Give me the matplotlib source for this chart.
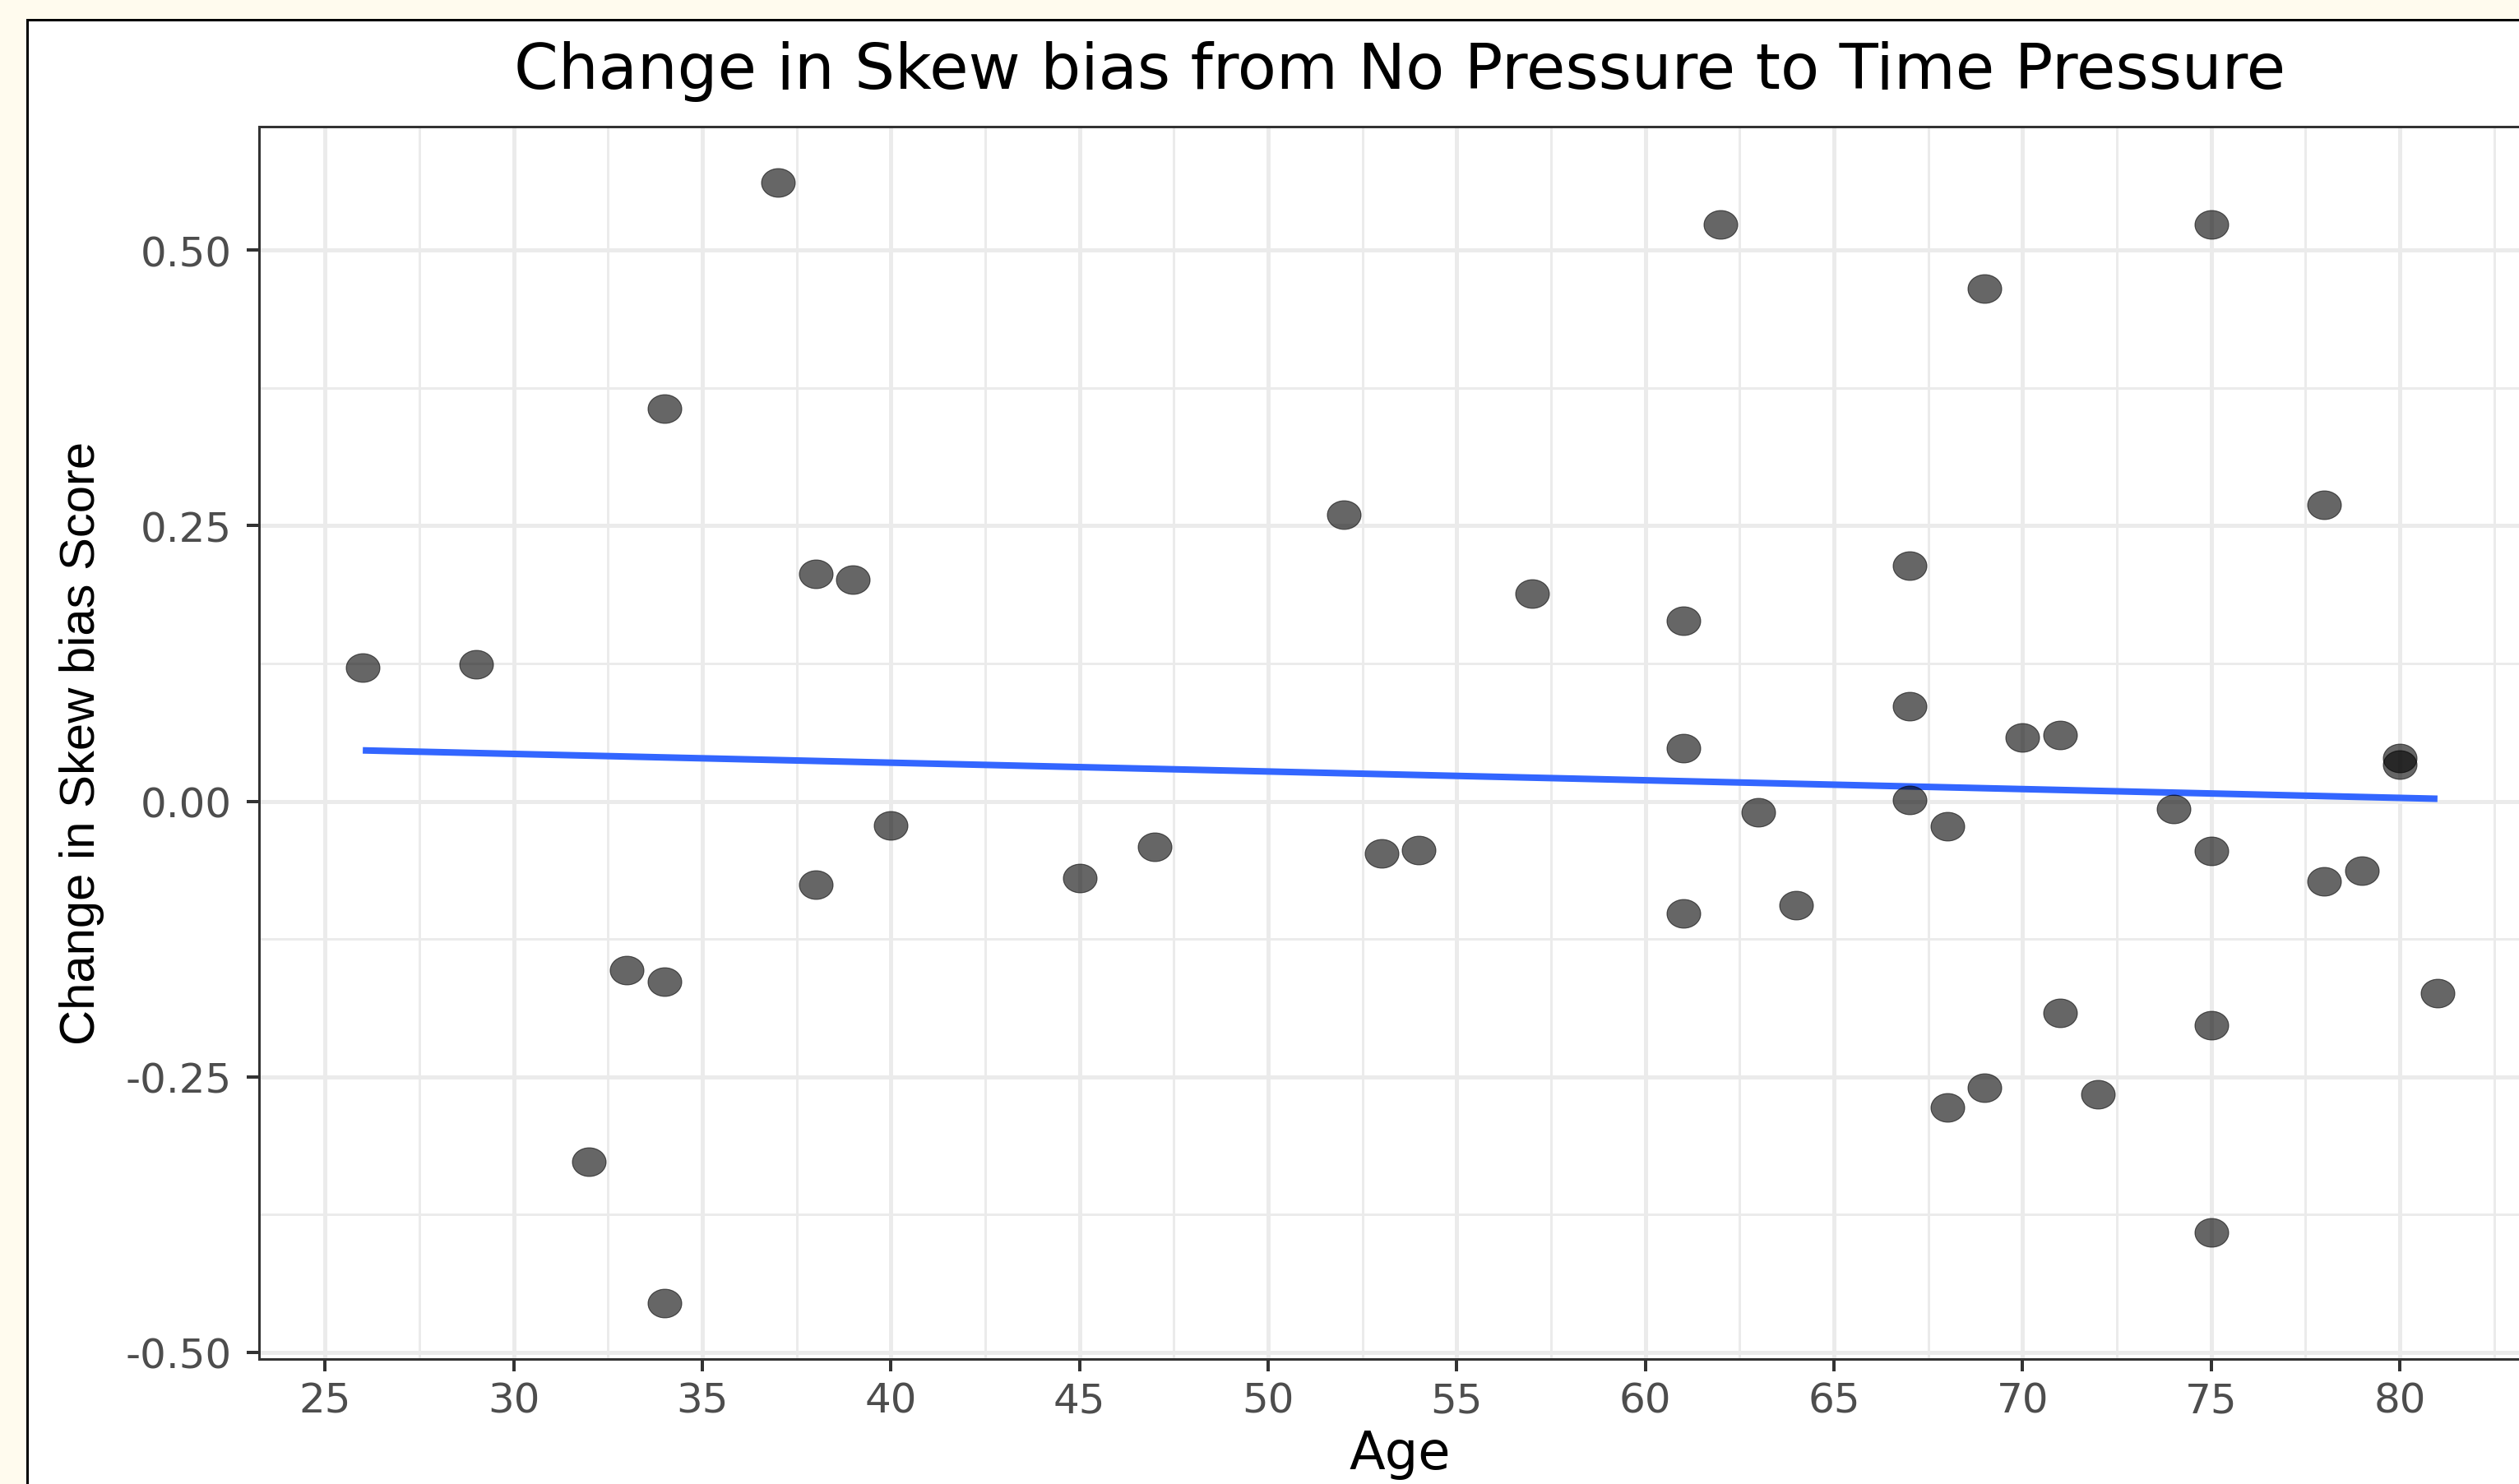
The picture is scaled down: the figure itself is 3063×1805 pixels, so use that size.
import numpy as np
import matplotlib.pyplot as plt
from matplotlib.path import Path
from matplotlib.transforms import Affine2D
from matplotlib.patches import Rectangle
from matplotlib.ticker import MultipleLocator

# data
age = [26, 29, 32, 33, 34, 34, 34, 37, 38, 38, 39, 40, 45, 47, 52, 53, 54, 57,
       61, 61, 61, 62, 63, 64, 67, 67, 67, 68, 68, 69, 69, 70, 71, 71, 72, 74,
       75, 75, 75, 75, 78, 78, 79, 80, 80, 81]
skew_change = [0.121, 0.124, -0.327, -0.153, -0.164, 0.356, -0.455, 0.561,
               0.206, -0.076, 0.201, -0.022, -0.070, -0.041, 0.260, -0.047,
               -0.044, 0.188, 0.164, 0.048, -0.102, 0.523, -0.010, -0.094,
               0.214, 0.086, 0.001, -0.023, -0.278, 0.465, -0.260, 0.058,
               0.060, -0.192, -0.266, -0.007, 0.523, -0.045, -0.203, -0.391,
               0.269, -0.073, -0.063, 0.039, 0.033, -0.174]

x_ticks = [25, 30, 35, 40, 45, 50, 55, 60, 65, 70, 75, 80]
y_ticks = [-0.50, -0.25, 0.00, 0.25, 0.50]
y_tick_labels = ['-0.50', '-0.25', '0.00', '0.25', '0.50']

title = 'Change in Skew bias from No Pressure to Time Pressure'
x_label = 'Age'
y_label = 'Change in Skew bias Score'

# the screenshot is stretched sideways, so a wide face fits the horizontal text
plt.rcParams['font.family'] = ['DejaVu Sans']
W, H = 3063, 1806
PX = 0.72  # points per pixel at dpi 100

fig = plt.figure(figsize=(W / 100, H / 100), dpi=100, facecolor='#FFFBEE')

# white card with black frame (cut off on the right and bottom)
card = Rectangle((33 / W, -0.05), 1.2, 1.05 - 25 / H, transform=fig.transFigure,
                 facecolor='white', edgecolor='black', linewidth=3 * PX, zorder=-5)
fig.patches.append(card)

# panel runs past the right edge of the picture
ax = fig.add_axes([315 / W, 152 / H, 2775 / W, 1499 / H])
ax.set_facecolor('white')

# lm fit
slope, intercept = np.polyfit(age, skew_change, 1)
fit_x = np.array([min(age), max(age)])
ax.plot(fit_x, intercept + slope * fit_x, color='#3366FF', linewidth=8 * PX,
        solid_capstyle='butt', zorder=2)

ellipse = Path.unit_circle().transformed(Affine2D().scale(1, 0.85))
ax.scatter(age, skew_change, s=(41 * PX) ** 2, marker=ellipse, color='black',
           alpha=0.6, linewidths=0.8, edgecolors='black', zorder=3)

ax.set_xlim(23.25, 83.75)
ax.set_ylim(-0.506, 0.612)
ax.set_xticks(x_ticks)
ax.set_yticks(y_ticks)
ax.set_yticklabels(y_tick_labels)
ax.xaxis.set_minor_locator(MultipleLocator(2.5))
ax.yaxis.set_minor_locator(MultipleLocator(0.125))

ax.grid(True, which='major', color='#EBEBEB', linewidth=5 * PX, zorder=0)
ax.grid(True, which='minor', color='#EBEBEB', linewidth=3 * PX, zorder=0)
ax.set_axisbelow(True)

ax.tick_params(which='major', direction='out', length=15 * PX, width=4 * PX,
               color='#333333', labelsize=36, labelcolor='#4D4D4D')
ax.tick_params(axis='x', pad=8)
ax.tick_params(axis='y', pad=13)
ax.tick_params(which='minor', length=0)
for sp in ax.spines.values():
    sp.set_color('#333333')
    sp.set_linewidth(3 * PX)

cx = (315 + 3090) / 2 / W
fig.text(cx, 1 - 108 / H, title, ha='center', va='baseline', fontsize=55.5, color='black')
fig.text(cx, 1 - 1787 / H, x_label, ha='center', va='baseline', fontsize=46, color='black')
fig.text(100 / W, 1 - 904 / H, y_label, ha='center', va='center', rotation=90,
         fontsize=43, color='black', family=['Liberation Sans', 'DejaVu Sans'])

fig.savefig('out.png', dpi=100, facecolor=fig.get_facecolor())
